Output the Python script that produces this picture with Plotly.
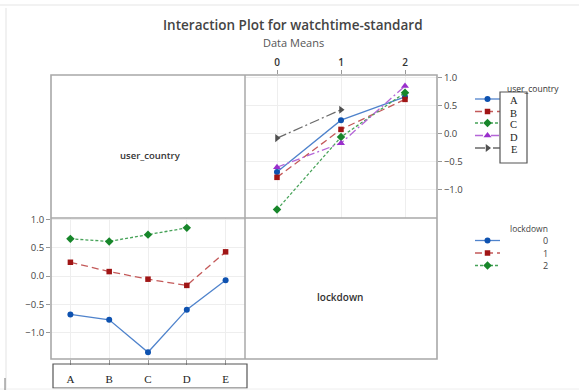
import plotly.graph_objects as go

# ---- data ----
countries = ["A", "B", "C", "D", "E"]
lockdown_levels = [0, 1, 2]
mean_A = [-0.68, 0.245, 0.66]
mean_B = [-0.775, 0.08, 0.615]
mean_C = [-1.35, -0.055, 0.735]
mean_D = [-0.595, -0.165, 0.855]
mean_E = [-0.075, 0.43, None]
y_ticks = [-1.0, -0.5, 0.0, 0.5, 1.0]

means = {"A": mean_A, "B": mean_B, "C": mean_C, "D": mean_D, "E": mean_E}

W, H = 579, 390

# styles
country_style = {
    "A": dict(mc="#0e52b0", lc="#4f83cc", sym="circle", dash="solid", size=6),
    "B": dict(mc="#a01515", lc="#c45a5a", sym="square", dash="7px,4px", size=5.5),
    "C": dict(mc="#17862a", lc="#46a258", sym="diamond", dash="3px,2px", size=6.5),
    "D": dict(mc="#9a2fcc", lc="#b566d8", sym="triangle-up", dash="8px,3px,2px,3px", size=7),
    "E": dict(mc="#505050", lc="#6a6a6a", sym="triangle-right", dash="10px,3px,2px,3px", size=7),
}
lock_style = [country_style["A"], country_style["B"], country_style["C"]]

fig = go.Figure()

# top-right panel: x = lockdown, series = user_country
for c in countries:
    s = country_style[c]
    fig.add_trace(go.Scatter(
        x=lockdown_levels, y=means[c], xaxis="x2", yaxis="y2",
        mode="lines+markers", showlegend=False,
        line=dict(color=s["lc"], width=1.3, dash=s["dash"]),
        marker=dict(color=s["mc"], symbol=s["sym"], size=s["size"]),
    ))

# bottom-left panel: x = user_country, series = lockdown
for i, l in enumerate(lockdown_levels):
    s = lock_style[i]
    ys = [means[c][i] for c in countries]
    xs = [c for c, v in zip(countries, ys) if v is not None]
    ys = [v for v in ys if v is not None]
    fig.add_trace(go.Scatter(
        x=xs, y=ys, xaxis="x", yaxis="y",
        mode="lines+markers", showlegend=False,
        line=dict(color=s["lc"], width=1.3, dash=s["dash"]),
        marker=dict(color=s["mc"], symbol=s["sym"], size=s["size"]),
    ))

# legend glyphs drawn in a pixel-space overlay axis
def glyph(yy, s):
    fig.add_trace(go.Scatter(
        x=[475, 500], y=[yy, yy], xaxis="x3", yaxis="y3",
        mode="lines", showlegend=False, hoverinfo="skip",
        line=dict(color=s["lc"], width=1.3, dash=s["dash"]),
    ))
    fig.add_trace(go.Scatter(
        x=[487.5], y=[yy], xaxis="x3", yaxis="y3",
        mode="markers", showlegend=False, hoverinfo="skip",
        marker=dict(color=s["mc"], symbol=s["sym"], size=s["size"]),
    ))

cy = [99, 111.5, 123, 135.5, 148]
for c, yy in zip(countries, cy):
    glyph(yy, country_style[c])
ly = [240.5, 253, 265.5]
for i, yy in enumerate(ly):
    glyph(yy, lock_style[i])

tickfont = dict(family="Open Sans", size=9.5, color="#444")
grid = "#eeeeee"
frame = "#a8a8a8"

fig.update_layout(
    width=W, height=H, margin=dict(l=0, r=0, t=0, b=0, autoexpand=False),
    paper_bgcolor="white", plot_bgcolor="rgba(0,0,0,0)",
    xaxis=dict(domain=[51 / W, 245 / W], anchor="y", type="category",
               categoryorder="array", categoryarray=countries, automargin=False,
               range=[-0.5, 4.5], ticks="outside", ticklen=5, tickcolor="#999",
               tickfont=dict(family="Liberation Serif", size=11, color="#222"),
               ticklabelstandoff=5,
               showgrid=True, gridcolor=grid, showline=False, zeroline=False),
    yaxis=dict(domain=[1 - 359 / H, 1 - 218 / H], anchor="x", automargin=False,
               range=[-1.47, 1.03], tickvals=y_ticks, tickformat=".1f",
               ticks="outside", ticklen=4, tickcolor="#999", tickfont=tickfont,
               showgrid=True, gridcolor=grid, showline=False, zeroline=False),
    xaxis2=dict(domain=[245 / W, 437 / W], anchor="y2", side="top", automargin=False,
                range=[-0.5, 2.5], tickvals=lockdown_levels,
                ticks="outside", ticklen=4, tickcolor="#999",
                tickfont=dict(family="Open Sans", size=10, color="#333", weight=600),
                showgrid=True, gridcolor=grid, showline=False, zeroline=False),
    yaxis2=dict(domain=[1 - 218 / H, 1 - 75 / H], anchor="x2", side="right", automargin=False,
                range=[-1.5, 1.05], tickvals=y_ticks, tickformat=".1f",
                ticks="outside", ticklen=4, tickcolor="#999", tickfont=tickfont,
                showgrid=True, gridcolor=grid, showline=False, zeroline=False),
    xaxis3=dict(domain=[0, 1], anchor="y3", range=[0, W], visible=False,
                fixedrange=True, automargin=False),
    yaxis3=dict(domain=[0, 1], anchor="x3", range=[H, 0], visible=False,
                fixedrange=True, automargin=False),
)

shapes = []
def line(x0, y0, x1, y1, color=frame, width=1.5):
    shapes.append(dict(type="line", xref="x3", yref="y3", x0=x0, y0=y0, x1=x1, y1=y1,
                       line=dict(color=color, width=width), layer="above"))

def rect(x0, y0, x1, y1, color="#555", width=1.2):
    shapes.append(dict(type="rect", xref="x3", yref="y3", x0=x0, y0=y0, x1=x1, y1=y1,
                       line=dict(color=color, width=width), layer="above"))

# outer frame and dividers
rect(51, 75, 437, 359, color=frame, width=1.6)
line(245, 75, 245, 359)
line(51, 218, 437, 218)
# category label box
rect(53, 364, 247, 388, color="#555", width=1.2)
# legend label box
rect(500, 92, 527, 163, color="#555", width=1.2)
# screenshot edge artefacts
line(6, 8, 6, 390, color="#ececec", width=1.5)
line(0, 5, W, 5, color="#eeeeee", width=1.5)
line(0, 389, W, 389, color="#eeeeee", width=1)
line(5, 378, 5, 390, color="#777", width=1)
fig.update_layout(shapes=shapes)

ann = []
def text(x, y, s, size=10, color="#333", family="Open Sans", xanchor="center", weight=None):
    f = dict(family=family, size=size, color=color)
    if weight:
        f["weight"] = weight
    ann.append(dict(xref="x3", yref="y3", x=x, y=y, text=s, showarrow=False,
                    xanchor=xanchor, yanchor="middle", font=f))

text(293, 25, "Interaction Plot for watchtime-standard", size=13.5, color="#444", weight=600)
text(293, 42, "Data Means", size=11, color="#555")
text(150, 155, "user_country", size=9.5, color="#333", weight=600)
text(340, 297, "lockdown", size=10, color="#333", weight=600)
# user_country legend
text(533, 88, "user_country", size=8.5, color="#333")
for c, yy in zip(countries, cy):
    text(513.5, yy + 1.5, c, size=10.5, color="#222", family="Liberation Serif")
# lockdown legend
text(529, 228, "lockdown", size=8.5, color="#444")
for l, yy in zip(lockdown_levels, ly):
    text(550, yy, str(l), size=9, color="#444", xanchor="right")
fig.update_layout(annotations=ann)

fig.write_html("out.html", config={"displayModeBar": False},
               post_script="document.body.style.margin='0px';")
